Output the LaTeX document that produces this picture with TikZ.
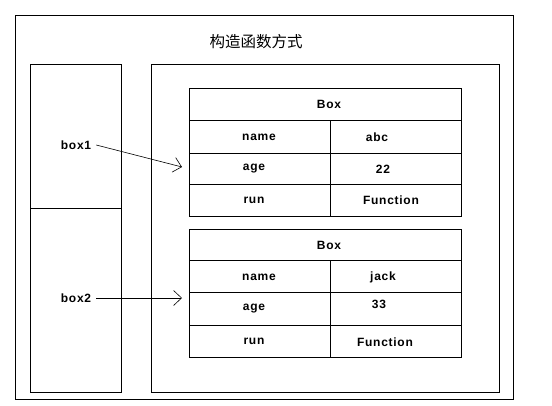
\documentclass[tikz,border=0pt]{standalone}
\usepackage{fontspec}
\setmainfont{Liberation Sans}
\newfontfamily\lblfont[LetterSpace=6]{Liberation Sans Bold}
\newfontfamily\cjk{Noto Sans CJK SC}
\usetikzlibrary{arrows.meta}
\tikzset{
  frame/.style={draw=black, line width=0.8pt},
  lbl/.style={font=\lblfont\fontsize{12}{14}\selectfont, inner sep=2pt},
  ttl/.style={font=\cjk\fontsize{15.5}{17}\selectfont, inner sep=0pt},
  arr/.style={draw=black, line width=0.6pt, -{Straight Barb[length=8pt,width=15pt,line width=0.6pt]}}
}
\begin{document}
\begin{tikzpicture}[x=1pt,y=-1pt]
\useasboundingbox (0,0) rectangle (552,405);
\fill[white] (0,0) rectangle (552,405);
% outer frame
\draw[frame] (15,15) rectangle (513,399);
\node[ttl] (title) at (256,42) {构造函数方式};
% left stack
\draw[frame] (30,64) rectangle (121,392);
\draw[frame] (30,208) -- (121,208);
% right heap container
\draw[frame] (151,64) rectangle (499,392);
% table 1
\draw[frame] (189,88) rectangle (461,216);
\draw[frame] (189,120) -- (461,120);
\draw[frame] (189,153) -- (461,153);
\draw[frame] (189,184) -- (461,184);
\draw[frame] (330,120) -- (330,216);
% table 2
\draw[frame] (189,229) rectangle (461,357);
\draw[frame] (189,260) -- (461,260);
\draw[frame] (189,292) -- (461,292);
\draw[frame] (189,325) -- (461,325);
\draw[frame] (330,260) -- (330,357);
% table 1 texts
\node[lbl] (t1box) at (329,104) {Box};
\node[lbl] (t1name) at (259,137) {name};
\node[lbl] (t1abc) at (377,137) {abc};
\node[lbl] (t1age) at (254,169) {age};
\node[lbl] (t1v) at (383,169) {22};
\node[lbl] (t1run) at (254,200) {run};
\node[lbl] (t1fn) at (391,200) {Function};
% table 2 texts
\node[lbl] (t2box) at (329,245) {Box};
\node[lbl] (t2name) at (259,277) {name};
\node[lbl] (t2jack) at (383,277) {jack};
\node[lbl] (t2age) at (254,309) {age};
\node[lbl] (t2v) at (379,304) {33};
\node[lbl] (t2run) at (254,341) {run};
\node[lbl] (t2fn) at (385,342) {Function};
% variables
\node[lbl] (b1) at (76,145) {box1};
\node[lbl] (b2) at (76,298) {box2};
\coordinate (p1) at (182,167);
\coordinate (p2) at (182,298);
\draw[arr] ([xshift=3pt]b1.east) -- (p1);
\draw[arr] ([xshift=3pt]b2.east) -- (p2);
\end{tikzpicture}
\end{document}
